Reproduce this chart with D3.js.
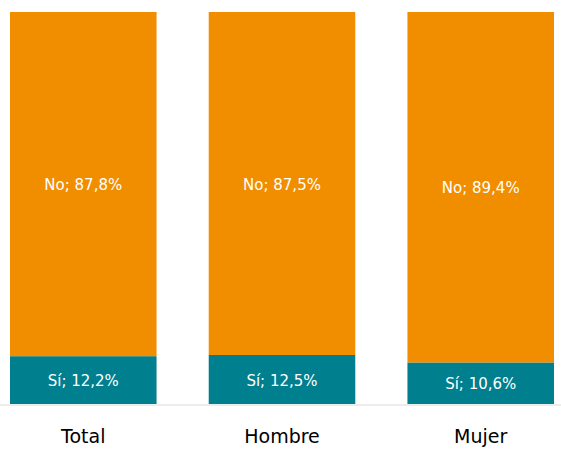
<!DOCTYPE html>
<html>
<head>
<meta charset="utf-8">
<script src="https://cdn.jsdelivr.net/npm/d3@7"></script>
<style>
  body { margin: 0; background: #fff; }
  text { font-family: "DejaVu Sans", "Open Sans", sans-serif; }
</style>
</head>
<body>
<div id="chart"></div>
<script>
var width = 561,
    height = 450;

var categories = ["Total", "Hombre", "Mujer"];
var si = [12.2, 12.5, 10.6];
var no = [87.8, 87.5, 89.4];
var seriesNames = ["Sí", "No"];
var seriesColors = ["#007f8f", "#f18e00"];

var rows = categories.map(function(c, i) {
  return { cat: c, "Sí": si[i], "No": no[i] };
});

var stack = d3.stack().keys(seriesNames);
var series = stack(rows);

var x = d3.scaleBand()
    .domain(categories)
    .range([10, 554])
    .paddingInner(0.2625)
    .paddingOuter(0);

var y = d3.scaleLinear()
    .domain([0, 100])
    .range([404, 12]);

var color = d3.scaleOrdinal().domain(seriesNames).range(seriesColors);

var fmt = function(v) { return d3.format(".1f")(v).replace(".", ","); };

var svg = d3.select("#chart").append("svg")
    .attr("width", width)
    .attr("height", height);

var groups = svg.append("g").selectAll("g")
  .data(series)
  .enter().append("g")
    .attr("fill", function(d) { return color(d.key); });

groups.selectAll("rect")
  .data(function(d) { return d; })
  .enter().append("rect")
    .attr("x", function(d) { return x(d.data.cat); })
    .attr("y", function(d) { return y(d[1]); })
    .attr("width", x.bandwidth())
    .attr("height", function(d) { return y(d[0]) - y(d[1]); });

// segment labels
groups.each(function(s) {
  d3.select(this).selectAll("text")
    .data(s)
    .enter().append("text")
      .attr("x", function(d) { return x(d.data.cat) + x.bandwidth() / 2; })
      .attr("y", function(d) { return (y(d[0]) + y(d[1])) / 2 + 1; })
      .attr("dy", "0.35em")
      .attr("text-anchor", "middle")
      .attr("fill", "#fff")
      .style("font-size", "15px")
      .text(function(d) { return s.key + "; " + fmt(d.data[s.key]) + "%"; });
});

// baseline
svg.append("line")
    .attr("x1", 0)
    .attr("x2", width)
    .attr("y1", y(0) + 1)
    .attr("y2", y(0) + 1)
    .attr("stroke", "#d9d9d9")
    .attr("stroke-width", 1);

// category axis
var axis = svg.append("g")
    .attr("transform", "translate(0," + (y(0) + 1) + ")")
    .call(d3.axisBottom(x).tickSize(0).tickPadding(25));

axis.select(".domain").remove();
axis.selectAll("text")
    .attr("fill", "#000")
    .style("font-size", "19px");
</script>
</body>
</html>
